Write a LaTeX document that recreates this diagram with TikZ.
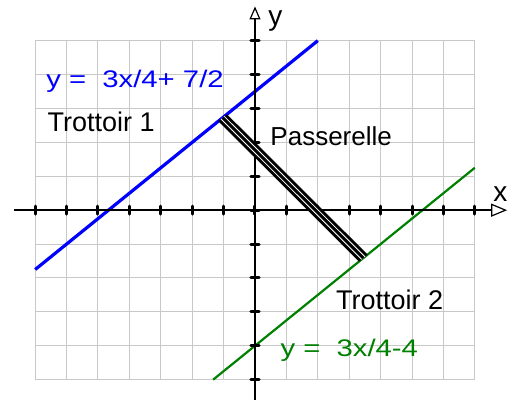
\documentclass[tikz,border=0pt]{standalone}
\usepackage{fontspec}
\setmainfont{Liberation Sans}
\newfontfamily\widefont[FakeStretch=1.22]{Liberation Sans}
\usepackage{tikz}
\usetikzlibrary{arrows.meta}
\definecolor{gridgray}{RGB}{200,200,200}
\definecolor{lineblue}{RGB}{0,0,255}
\definecolor{linegreen}{RGB}{0,128,0}

\begin{document}
\begin{tikzpicture}[x=15.7pt, y=16.95pt, >=Stealth]
\useasboundingbox (-8.121,-5.6) rectangle (8.057,6.2);

% --- Grid ---
\draw[gridgray, line width=0.5pt, step={(1,1)}] (-7,-5) grid (7,5);

% --- Trottoirs ---
\draw[lineblue, line width=1.6pt] (-7,-1.75) -- (2,5);
\draw[linegreen, line width=1.1pt] ({-4/3},-5) -- (7,1.25);

% --- Axes ---
\draw[line width=1.3pt, -{Triangle[open, length=8pt, width=6.5pt, line width=0.6pt]}] (-7.68,0) -- (8.03,0);
\draw[line width=1.3pt, -{Triangle[open, length=6.5pt, width=5.5pt, line width=0.6pt]}] (0,-5.6) -- (0,6.01);
\foreach \i in {-7,...,7} \draw[line width=1.5pt, line cap=round] (\i,-0.12) -- (\i,0.12);
\foreach \j in {-5,...,5} \draw[line width=1.5pt, line cap=round] (-0.13,\j) -- (0.13,\j);

% --- Passerelle ---
\coordinate (pA) at (-1.03,{0.75*(-1.03)+3.5});
\coordinate (pB) at (3.45,{0.75*3.45-4});
\begin{scope}
\clip (-4,0.5) -- (2,5) -- (6,0.5) -- (0,-4) -- cycle;
\draw[black, line width=5.5pt, shorten <=-6pt, shorten >=-6pt] (pA) -- (pB);
\draw[white, line width=2.5pt, shorten <=-6pt, shorten >=-6pt] (pA) -- (pB);
\draw[black, line width=1.5pt, shorten <=-6pt, shorten >=-6pt] (pA) -- (pB);
\end{scope}

% --- Labels ---
\node[lineblue, anchor=base west, inner sep=0pt, font=\widefont\fontsize{12}{14}\selectfont] (eqone) at (-6.66,3.63) {y = ~3x/4+ 7/2};
\node[anchor=base west, inner sep=0pt, font=\fontsize{13.5}{16}\selectfont] (trottone) at (-6.62,2.33) {Trottoir 1};
\node[anchor=base west, inner sep=0pt, font=\fontsize{13}{16}\selectfont] (passlabel) at (0.48,1.92) {Passerelle};
\node[anchor=base west, inner sep=0pt, font=\fontsize{13.5}{16}\selectfont] (trotttwo) at (2.57,-2.93) {Trottoir 2};
\node[linegreen, anchor=base west, inner sep=0pt, font=\widefont\fontsize{12}{14}\selectfont] (eqtwo) at (0.80,-4.31) {y = ~3x/4-4};
\node[anchor=base west, inner sep=0pt, font=\fontsize{14}{16}\selectfont] (ylabel) at (0.41,5.46) {y};
\node[anchor=base west, inner sep=0pt, font=\fontsize{14}{16}\selectfont] (xlabel) at (7.58,0.27) {x};

\end{tikzpicture}
\end{document}
